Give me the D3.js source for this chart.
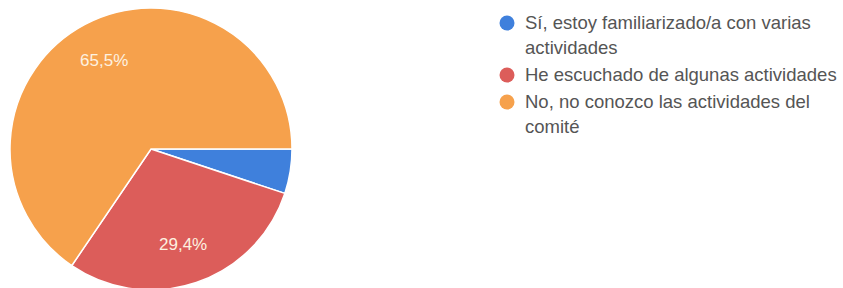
<!DOCTYPE html>
<html>
<head>
<meta charset="utf-8">
<script src="https://cdn.jsdelivr.net/npm/d3@7"></script>
<style>
  body { margin: 0; background: #fff; }
  text { font-family: "Liberation Sans", Arial, sans-serif; }
</style>
</head>
<body>
<div id="chart"></div>
<script>
// answers and their shares (%)
var categories = [
    "Sí, estoy familiarizado/a con varias actividades",
    "He escuchado de algunas actividades",
    "No, no conozco las actividades del comité"
];
var values = [5.1, 29.4, 65.5];
var labels = ["", "29,4%", "65,5%"];
var legendLines = [
    ["Sí, estoy familiarizado/a con varias", "actividades"],
    ["He escuchado de algunas actividades"],
    ["No, no conozco las actividades del", "comité"]
];
var colors = ["#3f80dc", "#dc5d5a", "#f6a14c"];

var width = 843, height = 288;
var cx = 151, cy = 149, radius = 141;

var svg = d3.select("#chart")
    .append("svg")
    .attr("width", width)
    .attr("height", height);

var data = categories.map(function (c, i) {
    return { name: c, value: values[i], label: labels[i], color: colors[i] };
});

// pie starts at 3 o'clock and runs clockwise
var pie = d3.pie()
    .sort(null)
    .value(function (d) { return d.value; })
    .startAngle(Math.PI / 2)
    .endAngle(Math.PI / 2 + 2 * Math.PI);

var arc = d3.arc().innerRadius(0).outerRadius(radius);
var labelArc = d3.arc().innerRadius(radius * 0.71).outerRadius(radius * 0.71);

var g = svg.append("g")
    .attr("transform", "translate(" + cx + "," + cy + ")");

var slices = pie(data);

g.selectAll("path")
    .data(slices)
    .enter()
    .append("path")
    .attr("d", arc)
    .attr("fill", function (d) { return d.data.color; })
    .attr("stroke", "#fff")
    .attr("stroke-width", 1.5);

g.selectAll("text.pct")
    .data(slices)
    .enter()
    .append("text")
    .attr("class", "pct")
    .attr("transform", function (d) { return "translate(" + labelArc.centroid(d) + ")"; })
    .attr("text-anchor", "middle")
    .attr("dy", "0.35em")
    .attr("fill", "#fdf1e0")
    .style("font-size", "17px")
    .text(function (d) { return d.data.label; });

// legend
var legend = svg.append("g").attr("transform", "translate(507,23)");
var rowY = [0, 52, 79];

var item = legend.selectAll("g")
    .data(data)
    .enter()
    .append("g")
    .attr("transform", function (d, i) { return "translate(0," + rowY[i] + ")"; });

item.append("circle")
    .attr("r", 7.5)
    .attr("fill", function (d) { return d.color; });

item.append("text")
    .attr("fill", "#555")
    .style("font-size", "18.5px")
    .selectAll("tspan")
    .data(function (d, i) { return legendLines[i]; })
    .enter()
    .append("tspan")
    .attr("x", 18)
    .attr("y", function (d, j) { return j * 25; })
    .attr("dy", "0.35em")
    .text(function (d) { return d; });
</script>
</body>
</html>
